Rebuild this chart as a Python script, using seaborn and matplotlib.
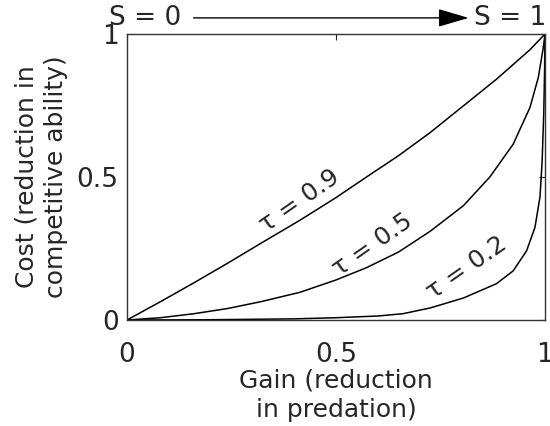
import matplotlib
matplotlib.use("Agg")
import matplotlib.pyplot as plt
import seaborn as sns
import pandas as pd

# curves (gain -> cost)
gain_09 = [0, 0.08, 0.16, 0.24, 0.32, 0.414, 0.50, 0.573, 0.65, 0.725, 0.805, 0.884, 0.964, 1.0]
cost_09 = [0, 0.064, 0.13, 0.198, 0.268, 0.349, 0.428, 0.50, 0.575, 0.655, 0.749, 0.842, 0.945, 1.0]

gain_05 = [0, 0.08, 0.16, 0.24, 0.32, 0.414, 0.50, 0.573, 0.65, 0.725, 0.805, 0.868, 0.924,
           0.964, 0.984, 0.996, 1.0]
cost_05 = [0, 0.008, 0.022, 0.04, 0.064, 0.097, 0.14, 0.183, 0.238, 0.31, 0.40, 0.50, 0.615,
           0.743, 0.848, 0.953, 1.0]

gain_02 = [0, 0.2, 0.4, 0.5, 0.6, 0.66, 0.725, 0.805, 0.884, 0.924, 0.956, 0.976, 0.988,
           0.993, 0.997, 0.999, 1.0]
cost_02 = [0, 0.001, 0.004, 0.008, 0.014, 0.022, 0.042, 0.077, 0.127, 0.172, 0.242, 0.324, 0.43,
           0.55, 0.72, 0.87, 1.0]

tau_labels = ["\u03c4 = 0.9", "\u03c4 = 0.5", "\u03c4 = 0.2"]
label_gain = [0.414, 0.587, 0.813]
label_cost = [0.415, 0.264, 0.182]

sns.set_style("white")
plt.rcParams["font.family"] = ["DejaVu Sans"]
txt = "#262626"

fig = plt.figure(figsize=(5.5, 4.26), dpi=100)
ax = fig.add_axes([0.2309, 0.2488, 0.7600, 0.6714])

for g, c in [(gain_09, cost_09), (gain_05, cost_05), (gain_02, cost_02)]:
    df = pd.DataFrame({"gain": g, "cost": c})
    sns.lineplot(data=df, x="gain", y="cost", color="black", lw=1.1, ax=ax)

for lab, gx, cy in zip(tau_labels, label_gain, label_cost):
    ax.text(gx, cy, lab, fontsize=18, rotation=35, color=txt,
            ha="center", va="center", rotation_mode="anchor")

ax.set_xlim(0, 1)
ax.set_ylim(0, 1)
ax.set_xticks([0, 0.5, 1])
ax.set_yticks([0, 0.5, 1])
ax.set_xticklabels(["0", "0.5", "1"])
ax.set_yticklabels(["0", "0.5", "1"])
ax.tick_params(direction="in", length=4, width=0.8, top=True, right=True,
               labelsize=19, colors=txt)
ax.tick_params(axis="x", pad=16)
ax.tick_params(axis="y", pad=6)
for s in ax.spines.values():
    s.set_color("#333333")
    s.set_linewidth(1.0)

ax.set_xlabel("Gain (reduction\nin predation)", fontsize=18, color=txt,
              labelpad=0, linespacing=1.3)
ax.set_ylabel("Cost (reduction in\ncompetitive ability)", fontsize=18, color=txt,
              labelpad=6, linespacing=1.3)

fig.text(0.198, 0.958, "S = 0", fontsize=19, color=txt, ha="left", va="center")
fig.text(0.993, 0.958, "S = 1", fontsize=19, color=txt, ha="right", va="center")
fig.patches.append(matplotlib.patches.FancyArrowPatch(
    (0.347, 0.958), (0.857, 0.958), transform=fig.transFigure,
    arrowstyle="-|>,head_length=0.95,head_width=0.28", color="black", lw=1.0,
    mutation_scale=20))

fig.savefig("out.png", dpi=100)
